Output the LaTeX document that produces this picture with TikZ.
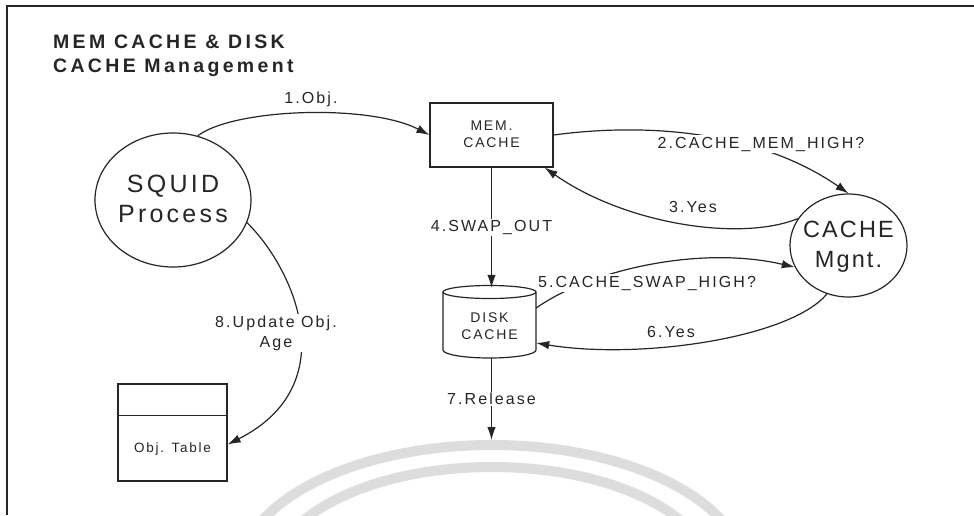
\documentclass[tikz,border=0pt]{standalone}
\usepackage{fontspec}
\setmainfont{Liberation Sans}
\newfontfamily\lsfont[LetterSpace=13]{Liberation Sans}
\newfontfamily\midfont[LetterSpace=9]{Liberation Sans}
\newfontfamily\titlefont[LetterSpace=17]{Liberation Sans}
\usetikzlibrary{arrows.meta,shapes.geometric}
\definecolor{ink}{HTML}{262626}
\definecolor{wmark}{HTML}{DDDDDD}
\begin{document}
\begin{tikzpicture}[x=1pt,y=-1pt,
  line/.style={draw=ink, line width=1.2pt},
  arr/.style={line, -{Latex[length=13pt,width=8.5pt]}},
  lbl/.style={font=\lsfont\fontsize{16}{20}\selectfont, text=ink, inner sep=1.5pt},
  lblw/.style={lbl, fill=white},
  boxtxt/.style={font=\lsfont\fontsize{14}{17}\selectfont, text=ink, align=center, inner sep=0pt},
  bigtxt/.style={font=\lsfont\fontsize{25}{29.5}\selectfont, text=ink, align=center, inner sep=0pt},
  cachetxtstyle/.style={font=\midfont\fontsize{23.5}{30}\selectfont, text=ink, align=center, inner sep=0pt},
  titletxt/.style={font=\titlefont\bfseries\fontsize{19.5}{24}\selectfont, text=ink, anchor=base west, inner sep=0pt},
  proc/.style={ellipse, line, inner sep=0pt}
]
\useasboundingbox (0,0) rectangle (974,515);
\fill[white] (0,0) rectangle (974,515);

% faint watermark arcs
\begin{scope}
\clip (0,0) rectangle (974,515);
\draw[wmark, line width=10pt] (745,575) arc[start angle=0, end angle=180, x radius=253pt, y radius=130pt];
\draw[wmark, line width=10pt] (710,575) arc[start angle=0, end angle=180, x radius=218pt, y radius=108pt];
\end{scope}

% frame
\draw[ink, line width=1.6pt] (974,6) -- (7,6) -- (7,515);

% title
\node[titletxt] (title1) at (53,48) {MEM CACHE \& DISK};
\node[titletxt] (title2) at (53,72) {CACHE Management};

% main shapes
\node[proc, minimum width=156pt, minimum height=134pt] (squid) at (173,200) {};
\node[bigtxt] (squidtxt) at (173,199) {SQUID\\Process};

\node[line, minimum width=123pt, minimum height=64pt, inner sep=0pt] (mem) at (491.5,135) {};
\node[boxtxt] (memtxt) at (491.5,134.5) {MEM.\\CACHE};

\node[proc, minimum width=117pt, minimum height=103pt] (cache) at (848.5,245.5) {};
\node[cachetxtstyle] (cachetxt) at (848.5,246.5) {CACHE\\Mgnt.};

% disk cylinder
\node[minimum width=93pt, minimum height=73pt, inner sep=0pt] (disk) at (489.5,321.5) {};
\draw[line] (489.5,292) ellipse[x radius=46.5pt, y radius=6.5pt];
\draw[line] (443,292) -- (443,350) arc[start angle=180, end angle=360, x radius=46.5pt, y radius=8pt] -- (536,292);
\node[boxtxt] (disktxt) at (489.5,326) {DISK\\CACHE};

% object table
\node[line, minimum width=109pt, minimum height=97pt, inner sep=0pt] (objt) at (172.5,432.5) {};
\draw[line] ([yshift=-32pt]objt.north west) -- ([yshift=-32pt]objt.north east);
\node[font=\lsfont\fontsize{13.5}{16}\selectfont, text=ink, inner sep=0pt, anchor=base] (objtxt) at (172.5,452.5) {Obj. Table};

\coordinate (rel) at (491.5,440);

% connectors
\draw[arr] (squid.69) .. controls (235,108) and (370,104) .. (mem.west);
\draw[arr] (mem.east) .. controls (650,122) and (760,132) .. (cache.north);
\draw[arr] (cache.152) .. controls (740,242) and (625,224) .. ([xshift=-9pt]mem.south east);
\draw[arr] (mem.south) -- node[lblw]{4.SWAP\_OUT} ([yshift=-3pt]mem.south |- disk.north);
\draw[arr] (disk.south -| rel) -- node[lblw]{7.Release} (rel);
\draw[arr] ([yshift=13.5pt]disk.east) .. controls (590,270) and (700,245) .. (cache.202);
\draw[arr] (cache.246) .. controls (790,338) and (640,360) .. ([yshift=-21.5pt]disk.east);
\draw[arr] (squid.-17) .. controls (295,270) and (345,385) .. ([yshift=-12pt]objt.east);

% labels
\node[lbl, anchor=base] (l1) at (311,103) {1.Obj.};
\node[lblw, anchor=base] (l2) at (761,148) {2.CACHE\_MEM\_HIGH?};
\node[lbl, anchor=base] (l3) at (693,212) {3.Yes};
\node[lblw, anchor=base] (l5) at (647,287) {5.CACHE\_SWAP\_HIGH?};
\node[lbl, anchor=base] (l6) at (671,337) {6.Yes};
\node[lblw, align=center] (l8) at (276,333) {8.Update Obj.\\Age};
\end{tikzpicture}
\end{document}
